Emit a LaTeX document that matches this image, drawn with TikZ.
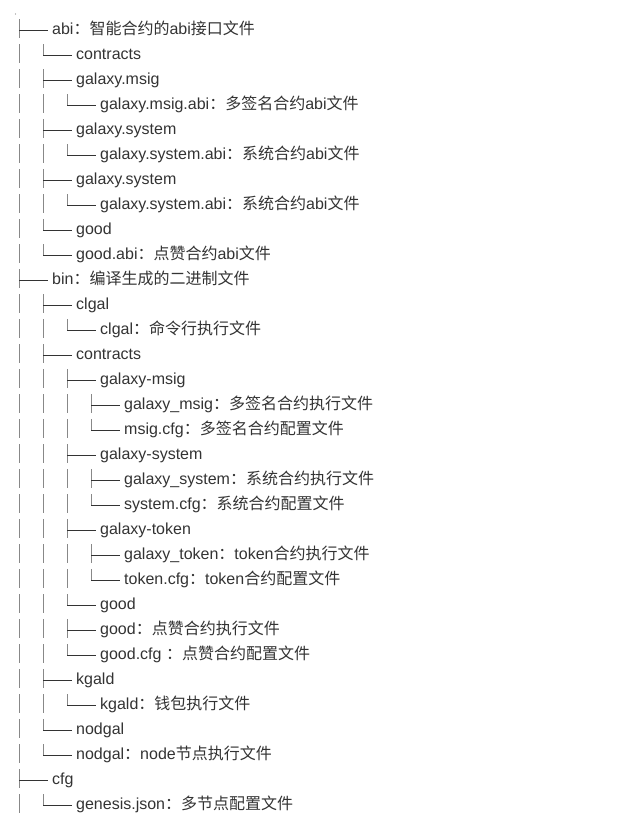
\documentclass[tikz,border=0pt]{standalone}
\usepackage{fontspec}
\setmainfont{Liberation Sans}
\newfontfamily\cjk{Noto Sans CJK SC}
\definecolor{txt1}{RGB}{51, 51, 51}
\definecolor{bar1}{RGB}{136, 136, 136}
\tikzset{
  entry/.style={anchor=base west, inner sep=0pt, text=txt1, font=\fontsize{16}{16}\selectfont},
  hline/.style={draw=txt1, line width=1pt},
  vline/.style={draw=bar1, line width=1pt}
}
\begin{document}
\begin{tikzpicture}[x=1pt, y=-1pt]
  \useasboundingbox (0,0) rectangle (628,819);
  \fill[bar1] (15.5,14) circle (0.7);
  \coordinate (lv0) at (19,0);
  \coordinate (lv1) at (43,0);
  \coordinate (lv2) at (67,0);
  \coordinate (lv3) at (91,0);

  \node[entry] (abi) at (52,34.5) {abi{\cjk：智能合约的}abi{\cjk 接口文件}};
  \node[entry] (abicon) at (76,59.5) {contracts};
  \node[entry] (abimsig) at (76,84.5) {galaxy.msig};
  \node[entry] (abimsigabi) at (100,109.5) {galaxy.msig.abi{\cjk：多签名合约}abi{\cjk 文件}};
  \node[entry] (abisys) at (76,134.5) {galaxy.system};
  \node[entry] (abisysabi) at (100,159.5) {galaxy.system.abi{\cjk：系统合约}abi{\cjk 文件}};
  \node[entry] (abisysb) at (76,184.5) {galaxy.system};
  \node[entry] (abisysbabi) at (100,209.5) {galaxy.system.abi{\cjk：系统合约}abi{\cjk 文件}};
  \node[entry] (abigood) at (76,234.5) {good};
  \node[entry] (abigoodabi) at (76,259.5) {good.abi{\cjk：点赞合约}abi{\cjk 文件}};

  \node[entry] (bin) at (52,284.5) {bin{\cjk：编译生成的二进制文件}};
  \node[entry] (clgal) at (76,309.5) {clgal};
  \node[entry] (clgalexe) at (100,334.5) {clgal{\cjk：命令行执行文件}};
  \node[entry] (bincon) at (76,359.5) {contracts};
  \node[entry] (msig) at (100,384.5) {galaxy-msig};
  \node[entry] (msigexe) at (124,409.5) {galaxy\_msig{\cjk：多签名合约执行文件}};
  \node[entry] (msigcfg) at (124,434.5) {msig.cfg{\cjk：多签名合约配置文件}};
  \node[entry] (sys) at (100,459.5) {galaxy-system};
  \node[entry] (sysexe) at (124,484.5) {galaxy\_system{\cjk：系统合约执行文件}};
  \node[entry] (syscfg) at (124,509.5) {system.cfg{\cjk：系统合约配置文件}};
  \node[entry] (token) at (100,534.5) {galaxy-token};
  \node[entry] (tokenexe) at (124,559.5) {galaxy\_token{\cjk：}token{\cjk 合约执行文件}};
  \node[entry] (tokencfg) at (124,584.5) {token.cfg{\cjk：}token{\cjk 合约配置文件}};
  \node[entry] (good) at (100,609.5) {good};
  \node[entry] (goodexe) at (100,634.5) {good{\cjk：点赞合约执行文件}};
  \node[entry] (goodcfg) at (100,659.5) {good.cfg {\cjk：点赞合约配置文件}};
  \node[entry] (kgald) at (76,684.5) {kgald};
  \node[entry] (kgaldexe) at (100,709.5) {kgald{\cjk：钱包执行文件}};
  \node[entry] (nodgal) at (76,734.5) {nodgal};
  \node[entry] (nodgalexe) at (76,759.5) {nodgal{\cjk：}node{\cjk 节点执行文件}};

  \node[entry] (cfg) at (52,784.5) {cfg};
  \node[entry] (genesis) at (76,809.5) {genesis.json{\cjk：多节点配置文件}};

  % name/level/length of the branch stroke (18.5 tee, 11 corner)
  \foreach \n/\l/\k in {abi/0/18.5, abicon/1/11, abimsig/1/18.5, abimsigabi/2/11,
      abisys/1/18.5, abisysabi/2/11, abisysb/1/18.5, abisysbabi/2/11,
      abigood/1/11, abigoodabi/1/11, bin/0/18.5, clgal/1/18.5, clgalexe/2/11,
      bincon/1/18.5, msig/2/18.5, msigexe/3/18.5, msigcfg/3/11, sys/2/18.5,
      sysexe/3/18.5, syscfg/3/11, token/2/18.5, tokenexe/3/18.5, tokencfg/3/11,
      good/2/11, goodexe/2/18.5, goodcfg/2/11, kgald/1/18.5, kgaldexe/2/11,
      nodgal/1/11, nodgalexe/1/11, cfg/0/18.5, genesis/1/11} {
    \draw[vline] (lv\l |- \n.base west) ++(0,-15.5) -- ++(0,\k);
    \draw[hline] (lv\l |- \n.base west) ++(0,-4.5) -- ++(28.5,0);
    \foreach \b in {0,1,2} {
      \ifnum\b<\l \draw[vline] (lv\b |- \n.base west) ++(0,-15.5) -- ++(0,18.5);\fi
    }
  }
\end{tikzpicture}
\end{document}
